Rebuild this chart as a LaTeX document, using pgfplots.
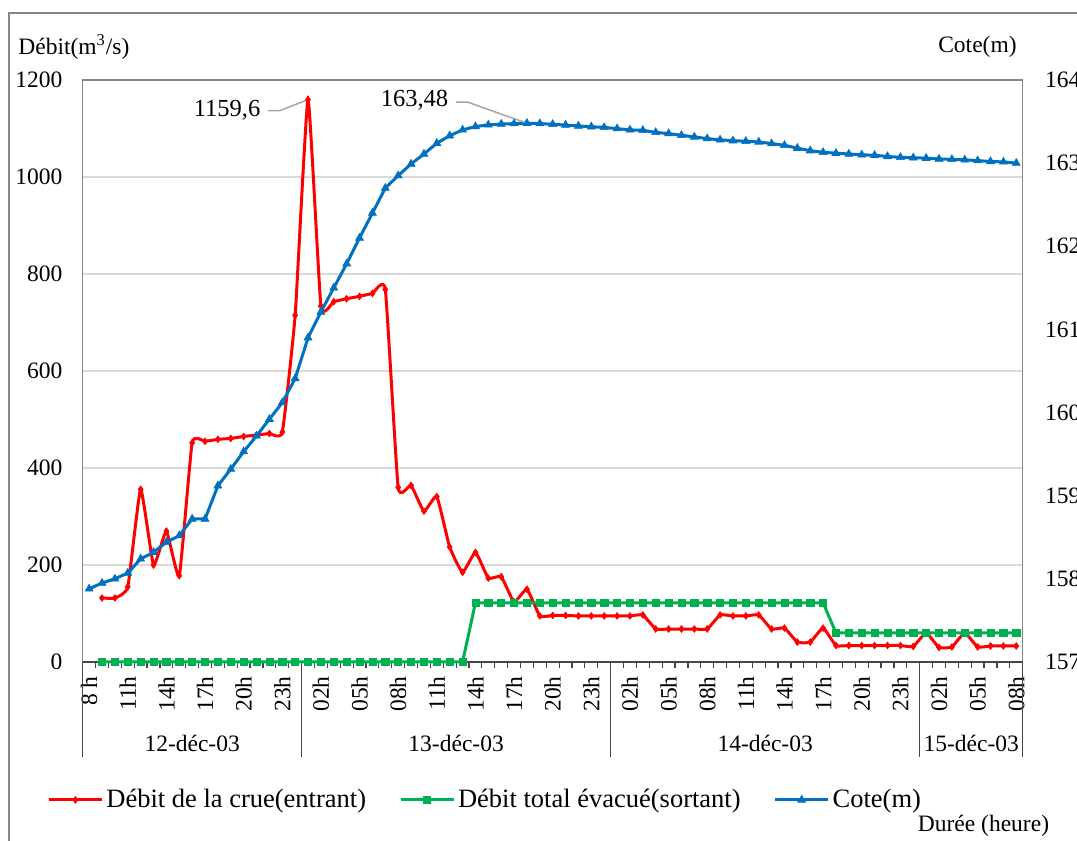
\documentclass[border=0pt]{standalone}
\usepackage{fontspec}
\setmainfont{Liberation Serif}
\usepackage{pgfplots}
\usepackage{pgfplotstable}
\pgfplotsset{compat=1.18}

\definecolor{crue}{RGB}{255,0,0}
\definecolor{evac}{RGB}{0,176,80}
\definecolor{cote}{RGB}{0,112,192}
\definecolor{cadre}{RGB}{134,134,134}
\definecolor{grille}{RGB}{217,217,217}
\definecolor{axe}{RGB}{70,70,70}
\definecolor{renvoi}{RGB}{166,166,166}

\newcommand{\fs}{\fontsize{11.75}{14}\selectfont}

% débit entrant (m3/s), heures comptées depuis 8h le 12-déc-03
\pgfplotstableread{
i q
1 132
2 132
3 155
4 356
5 200
6 270
7 178
8 452
9 455
10 459
11 461
12 465
13 468
14 471
15 474
16 715
17 1159.6
18 734
19 743
20 749
21 754
22 760
23 768
24 360
25 364
26 311
27 341
28 237
29 185
30 226
31 173
32 176
33 124
34 150
35 95
36 96
37 96
38 95
39 95
40 95
41 95
42 95
43 97
44 68
45 68
46 68
47 68
48 68
49 97
50 95
51 95
52 97
53 68
54 70
55 41
56 41
57 70
58 34
59 34
60 34
61 34
62 34
63 34
64 32
65 60
66 30
67 31
68 60
69 31
70 33
71 33
72 33
}\tabcrue

% débit total évacué (m3/s)
\pgfplotstableread{
i q
1 0
2 0
3 0
4 0
5 0
6 0
7 0
8 0
9 0
10 0
11 0
12 0
13 0
14 0
15 0
16 0
17 0
18 0
19 0
20 0
21 0
22 0
23 0
24 0
25 0
26 0
27 0
28 0
29 0
30 122
31 122
32 122
33 122
34 122
35 122
36 122
37 122
38 122
39 122
40 122
41 122
42 122
43 122
44 122
45 122
46 122
47 122
48 122
49 122
50 122
51 122
52 122
53 122
54 122
55 122
56 122
57 122
58 60
59 60
60 60
61 60
62 60
63 60
64 60
65 60
66 60
67 60
68 60
69 60
70 60
71 60
72 60
}\tabevac

% cote de la retenue (m)
\pgfplotstableread{
i z
0 157.88
1 157.95
2 158.00
3 158.07
4 158.24
5 158.32
6 158.44
7 158.52
8 158.72
9 158.72
10 159.12
11 159.32
12 159.53
13 159.72
14 159.92
15 160.12
16 160.41
17 160.90
18 161.21
19 161.50
20 161.79
21 162.10
22 162.40
23 162.70
24 162.85
25 162.99
26 163.11
27 163.24
28 163.33
29 163.40
30 163.44
31 163.46
32 163.47
33 163.475
34 163.48
35 163.476
36 163.467
37 163.458
38 163.447
39 163.438
40 163.43
41 163.415
42 163.40
43 163.395
44 163.37
45 163.355
46 163.335
47 163.315
48 163.295
49 163.28
50 163.27
51 163.263
52 163.255
53 163.235
54 163.215
55 163.18
56 163.15
57 163.13
58 163.12
59 163.11
60 163.10
61 163.095
62 163.08
63 163.07
64 163.065
65 163.06
66 163.05
67 163.045
68 163.04
69 163.03
70 163.02
71 163.015
72 163.00
}\tabcote

\begin{document}
\begin{tikzpicture}[x=1pt,y=1pt]
\useasboundingbox (0,0) rectangle (538.5,420.5);
\clip (0,0) rectangle (538.5,420.5);
\draw[cadre, line width=0.75pt] (4.5,414) rectangle (560,-10);

\begin{axis}[
  at={(41.35pt,89.5pt)}, anchor=south west,
  scale only axis, width=470pt, height=291pt,
  xmin=-0.5, xmax=72.5, ymin=0, ymax=1200,
  clip=false,
  axis line style={cadre, line width=0.75pt},
  ytick={0,200,...,1200},
  ymajorgrids, grid style={grille, line width=0.75pt},
  xtick={0,3,...,72},
  xticklabels={8 h,11h,14h,17h,20h,23h,02h,05h,08h,11h,14h,17h,20h,23h,02h,05h,08h,11h,14h,17h,20h,23h,02h,05h,08h},
  minor xtick={-0.5,0.5,...,72.5},
  major tick length=0pt, minor tick length=3pt, tick align=outside,
  xtick pos=bottom, ytick pos=left,
  tick style={axe, line width=0.6pt},
  /pgf/number format/assume math mode=true,
  /pgf/number format/1000 sep={},
  ticklabel style={font=\fs},
  yticklabel style={anchor=east, inner sep=0pt},
  yticklabel shift=10pt,
  xticklabel style={rotate=90, anchor=east, inner sep=0pt},
  xticklabel shift=7pt,
  legend columns=3,
  legend image code/.code={\draw[mark repeat=2,mark phase=2,#1] plot coordinates {(0pt,0pt) (13.25pt,0pt) (26.5pt,0pt)};},
  legend style={at={(-0.038,-0.237)}, anchor=west, draw=none, fill=none, inner sep=0pt,
    font=\fontsize{13.25}{15}\selectfont,
    nodes={inner xsep=1.5pt, inner ysep=0pt},
    /tikz/every even column/.append style={column sep=15pt}},
]
\draw[axe, line width=1pt] (axis cs:-0.5,0) -- (axis cs:72.5,0);
\draw[axe, line width=0.75pt] (axis cs:-0.5,0) -- ++(0pt,-47.5pt);
\draw[axe, line width=0.75pt] (axis cs:16.5,0) -- ++(0pt,-47.5pt);
\draw[axe, line width=0.75pt] (axis cs:40.5,0) -- ++(0pt,-47.5pt);
\draw[axe, line width=0.75pt] (axis cs:64.5,0) -- ++(0pt,-47.5pt);
\draw[axe, line width=0.75pt] (axis cs:72.5,0) -- ++(0pt,-47.5pt);
\node[font=\fs, yshift=-40.5pt] at (axis cs:8,0) {12-déc-03};
\node[font=\fs, yshift=-40.5pt] at (axis cs:28.5,0) {13-déc-03};
\node[font=\fs, yshift=-40.5pt] at (axis cs:52.5,0) {14-déc-03};
\node[font=\fs, yshift=-40.5pt] at (axis cs:68.5,0) {15-déc-03};

\addplot[crue, line width=1.5pt, smooth, tension=0.25, mark=diamond*, mark size=1.7pt,
  mark options={line width=0.3pt}] table[x=i,y=q] {\tabcrue};
\addlegendentry{Débit de la crue(entrant)}
\addplot[evac, line width=1.5pt, mark=square*, mark size=1.8pt,
  mark options={line width=0.3pt}] table[x=i,y=q] {\tabevac};
\addlegendentry{Débit total évacué(sortant)}
\addlegendimage{cote, line width=1.5pt, mark=triangle*, mark size=2.3pt, mark options={line width=0.3pt}}
\addlegendentry{Cote(m)}

\draw[renvoi, line width=0.75pt] (axis cs:17,1159.6) -- ++(-14pt,-5.5pt) -- ++(-6pt,0pt)
  node[anchor=east, inner sep=0pt, xshift=-3.5pt, text=black, font=\fontsize{12.25}{14}\selectfont] {1159,6};
\end{axis}

\begin{axis}[
  at={(41.35pt,89.5pt)}, anchor=south west,
  scale only axis, width=470pt, height=291pt,
  xmin=-0.5, xmax=72.5, ymin=157, ymax=164,
  clip=false,
  axis x line=none, axis y line*=right,
  axis line style={draw=none},
  ytick={157,158,...,164},
  major tick length=0pt,
  /pgf/number format/assume math mode=true,
  ticklabel style={font=\fs},
  yticklabel style={anchor=west, inner sep=0pt},
  yticklabel shift=11pt,
]
\addplot[cote, line width=1.5pt, mark=triangle*, mark size=2.3pt,
  mark options={line width=0.3pt}] table[x=i,y=z] {\tabcote};
\draw[renvoi, line width=0.75pt] (axis cs:34,163.48) -- ++(-29.5pt,10.5pt) -- ++(-6pt,0pt)
  node[anchor=east, inner sep=0pt, xshift=-3.5pt, yshift=1pt, text=black, font=\fontsize{12.25}{14}\selectfont] {163,48};
\end{axis}

\node[anchor=west, inner sep=0pt, font=\fs] at (9,397) {Débit(m\textsuperscript{3}/s)};
\node[anchor=east, inner sep=0pt, font=\fs] at (508.5,397) {Cote(m)};
\node[inner sep=0pt, font=\fs] at (491.75,7.5) {Durée (heure)};
\end{tikzpicture}
\end{document}
